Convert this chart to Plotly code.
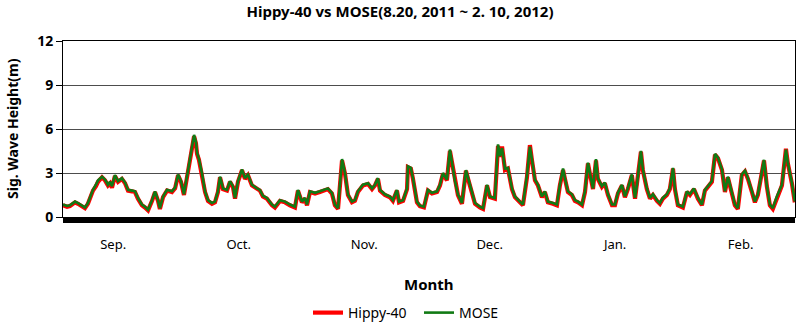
import pandas as pd
import plotly.graph_objects as go

# Significant wave height, sampled in hours since 2011-08-20 00:00
start = pd.Timestamp("2011-08-20 00:00")
hours = [
    0, 23, 40, 69, 86, 97, 126, 143, 155, 172, 189, 201, 224, 241, 258, 270, 281, 298,
    316, 338, 356, 373, 396, 413, 430, 453, 470, 488, 511, 528, 545, 556, 574, 597,
    625, 643, 660, 677, 694, 706, 717, 734, 752, 763, 769, 780, 797, 815, 832, 855,
    872, 889, 901, 918, 941, 958, 975, 987, 1004, 1027, 1044, 1061, 1084, 1113, 1130,
    1147, 1170, 1199, 1216, 1245, 1274, 1302, 1331, 1348, 1371, 1388, 1400, 1417, 1446,
    1474, 1503, 1520, 1543, 1560, 1578, 1601, 1618, 1635, 1658, 1675, 1692, 1721, 1750,
    1773, 1790, 1807, 1819, 1847, 1876, 1893, 1916, 1928, 1951, 1974, 1979, 1996, 2008,
    2031, 2048, 2071, 2094, 2117, 2146, 2163, 2180, 2203, 2220, 2232, 2249, 2266, 2289,
    2312, 2324, 2347, 2364, 2392, 2410, 2433, 2450, 2478, 2496, 2507, 2519, 2536, 2553,
    2576, 2593, 2622, 2639, 2662, 2679, 2691, 2708, 2725, 2748, 2765, 2782, 2811, 2834,
    2851, 2869, 2880, 2897, 2920, 2937, 2955, 2978, 2995, 3012, 3023, 3041, 3058, 3069,
    3092, 3109, 3127, 3150, 3167, 3184, 3207, 3224, 3241, 3264, 3282, 3293, 3316, 3327,
    3350, 3368, 3385, 3408, 3425, 3442, 3465, 3482, 3500, 3511, 3528, 3557, 3580, 3597,
    3620, 3643, 3666, 3683, 3700, 3723, 3741, 3758, 3781, 3798, 3815, 3838, 3855, 3872,
    3895, 3913, 3930, 3953, 3970, 3987, 4010, 4022, 4039, 4056, 4073, 4096, 4125, 4148,
    4159, 4182, 4199,
]
hippy40 = [
    0.8, 0.7, 0.75, 1.0, 0.9, 0.8, 0.6, 0.9, 1.25, 1.8, 2.1, 2.4, 2.7, 2.5, 2.15, 2.3, 2.0, 2.8,
    2.4, 2.6, 2.3, 1.8, 1.75, 1.7, 1.25, 0.8, 0.65, 0.45, 1.1, 1.7, 1.1, 0.55, 1.35, 1.8,
    1.7, 1.95, 2.85, 2.4, 1.5, 2.4, 3.2, 4.45, 5.5, 5.0, 4.3, 3.9, 2.95, 1.7, 1.1, 0.9,
    1.0, 1.7, 2.7, 1.9, 1.8, 2.4, 2.05, 1.25, 2.4, 3.2, 2.6, 2.85, 2.15, 1.9, 1.8,
    1.4, 1.25, 0.8, 0.65, 1.1, 1.0, 0.8, 0.65, 1.8, 1.0, 1.25, 0.8, 1.7, 1.6,
    1.7, 1.8, 1.9, 1.6, 0.8, 0.55, 3.85, 2.95, 1.5, 1.0, 1.1, 1.7, 2.15, 2.25,
    1.9, 2.15, 2.6, 1.8, 1.5, 1.35, 1.1, 1.8, 1.0, 1.1, 1.9, 3.4, 3.3, 2.6,
    1.0, 0.73, 0.65, 1.8, 1.6, 1.7, 2.15, 2.95, 2.5, 4.5, 3.65, 2.4, 1.5, 0.9,
    3.15, 2.6, 1.5, 0.9, 0.65, 0.55, 2.15, 1.35, 1.25, 4.85, 4.1, 4.8, 3.2, 3.3,
    1.9, 1.35, 1.0, 0.8, 2.7, 4.9, 3.85, 2.5, 2.15, 1.35, 1.7, 1.0, 0.9, 0.8,
    2.15, 3.2, 2.6, 1.7, 1.5, 1.1, 1.0, 0.8, 1.7, 3.65, 2.95, 1.9, 3.85, 2.6,
    2.05, 2.3, 1.5, 0.8, 0.8, 1.6, 2.15, 1.35, 1.9, 2.85, 1.25, 2.15, 4.45, 3.2,
    1.9, 1.25, 1.5, 1.1, 0.9, 1.25, 1.5, 1.9, 3.3, 1.9, 0.8, 0.65, 1.7, 1.5,
    1.9, 1.25, 0.8, 1.8, 2.05, 2.4, 4.25, 4.0, 3.2, 1.7, 2.7, 1.7, 0.8, 0.55,
    2.85, 3.1, 2.6, 1.7, 1.0, 1.5, 2.95, 3.85, 2.05, 0.8, 0.55, 1.35, 2.15, 4.65,
    3.65, 2.3, 1.0,
]
mose = [
    0.85, 0.75, 0.8, 1.05, 0.95, 0.85, 0.65, 0.95, 1.3, 1.85, 2.2, 2.5, 2.75, 2.55, 2.2, 2.4, 2.1, 2.85,
    2.45, 2.65, 2.35, 1.85, 1.8, 1.75, 1.3, 0.85, 0.7, 0.5, 1.15, 1.75, 1.15, 0.6, 1.4, 1.85,
    1.75, 2.0, 2.9, 2.45, 1.55, 2.45, 3.3, 4.55, 5.6, 5.1, 4.4, 3.95, 3.0, 1.75, 1.15, 0.95,
    1.05, 1.75, 2.75, 1.95, 1.85, 2.45, 2.1, 1.3, 2.45, 3.25, 2.65, 2.9, 2.2, 1.95, 1.85,
    1.45, 1.3, 0.85, 0.7, 1.15, 1.05, 0.85, 0.7, 1.85, 1.05, 1.3, 0.85, 1.75, 1.65,
    1.75, 1.85, 1.95, 1.65, 0.85, 0.6, 3.95, 3.0, 1.55, 1.05, 1.15, 1.75, 2.2, 2.3,
    1.95, 2.2, 2.65, 1.85, 1.55, 1.4, 1.15, 1.85, 1.05, 1.15, 1.95, 3.45, 3.35, 2.65,
    1.05, 0.78, 0.7, 1.85, 1.65, 1.75, 2.2, 3.0, 2.55, 4.6, 3.7, 2.45, 1.55, 0.95,
    3.2, 2.65, 1.55, 0.95, 0.7, 0.6, 2.2, 1.4, 1.3, 4.95, 4.15, 4.7, 3.3, 3.35,
    1.95, 1.4, 1.05, 0.85, 2.8, 4.8, 3.9, 2.55, 2.2, 1.4, 1.75, 1.05, 0.95, 0.85,
    2.2, 3.3, 2.65, 1.75, 1.55, 1.15, 1.05, 0.85, 1.75, 3.7, 3.0, 1.95, 3.95, 2.65,
    2.1, 2.35, 1.55, 0.85, 0.85, 1.65, 2.2, 1.4, 1.95, 2.9, 1.3, 2.2, 4.5, 3.25,
    1.95, 1.3, 1.55, 1.15, 0.95, 1.3, 1.55, 1.95, 3.35, 1.95, 0.85, 0.7, 1.75, 1.55,
    1.95, 1.3, 0.85, 1.85, 2.1, 2.45, 4.3, 4.05, 3.25, 1.75, 2.75, 1.75, 0.85, 0.6,
    2.9, 3.15, 2.65, 1.75, 1.05, 1.55, 3.0, 3.9, 2.1, 0.85, 0.6, 1.4, 2.2, 4.6,
    3.7, 2.35, 1.05,
]

# Month labels every 30 days from 1 Sep
tick_dates = ["2011-09-01", "2011-10-01", "2011-10-31", "2011-11-30", "2011-12-30", "2012-01-29"]
tick_labels = ["Sep.", "Oct.", "Nov.", "Dec.", "Jan.", "Feb."]
y_ticks = [0, 3, 6, 9, 12]

times = start + pd.to_timedelta(hours, unit="h")
FONT = "Noto Sans"

fig = go.Figure()
fig.add_trace(go.Scatter(x=times, y=hippy40, mode="lines", name="Hippy-40",
                         line=dict(color="#ff0000", width=4.2)))
fig.add_trace(go.Scatter(x=times, y=mose, mode="lines", name="MOSE",
                         line=dict(color="#117a14", width=2.6)))

fig.update_layout(
    width=800, height=324,
    margin=dict(l=63, r=5, t=41, b=107),
    paper_bgcolor="white", plot_bgcolor="white",
    font=dict(family=FONT, color="black"),
    title=dict(text="<b>Hippy-40 vs MOSE(8.20, 2011 ~ 2. 10, 2012)</b>",
               x=0.5, xref="container", xanchor="center",
               y=1 - 12 / 324, yref="container", yanchor="middle",
               font=dict(size=15)),
    showlegend=True,
    legend=dict(orientation="h", x=308 / 800, xref="container", xanchor="left",
                y=1 - 313 / 324, yref="container", yanchor="middle",
                font=dict(size=14), itemwidth=30, tracegroupgap=0,
                entrywidth=66, entrywidthmode="pixels"),
    xaxis=dict(
        range=[start, start + pd.Timedelta(hours=4200)],
        tickvals=pd.to_datetime(tick_dates), ticktext=tick_labels,
        ticks="outside", ticklen=15, tickcolor="rgba(0,0,0,0)",
        tickfont=dict(size=13),
        showgrid=False, showline=True, linecolor="black", linewidth=1, mirror=True,
        zeroline=False,
    ),
    yaxis=dict(
        range=[0, 12], tickvals=y_ticks,
        ticktext=[f"<b>{v}</b>" for v in y_ticks],
        ticks="outside", ticklen=6, tickcolor="black",
        tickfont=dict(size=14),
        showgrid=True, gridcolor="#4d4d4d", gridwidth=1,
        showline=True, linecolor="black", linewidth=1, mirror=True,
        zeroline=False,
    ),
    annotations=[
        dict(text="<b>Sig. Wave Height(m)</b>", textangle=-90,
             x=12, xref="paper", xanchor="center", y=0.5, yref="paper",
             showarrow=False, font=dict(size=14)),
        dict(text="<b>Month</b>", x=0.5, xref="paper", xanchor="center",
             y=-67, yref="paper", yanchor="middle", showarrow=False,
             font=dict(size=15)),
    ],
    shapes=[
        # dense hourly category ticks along the base of the axis
        dict(type="rect", xref="paper", yref="paper", x0=0, x1=1,
             ysizemode="pixel", yanchor=0, y0=0, y1=-6,
             fillcolor="black", line=dict(width=0), layer="above"),
    ],
)

# axis-title annotations placed in pixel units relative to the plot area
plot_h = 324 - 41 - 107
plot_w = 800 - 63 - 5
fig.layout.annotations[0].update(x=(12 - 63) / plot_w)
fig.layout.annotations[1].update(y=-(284 - 217) / plot_h)

fig.write_html("out.html")
